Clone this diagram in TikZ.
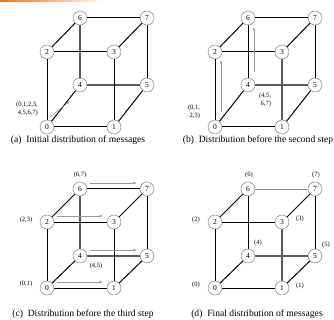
\documentclass[tikz,border=0pt]{standalone}
\usepackage{fontspec}
\setmainfont{Liberation Serif}
\usetikzlibrary{arrows.meta}
\definecolor{barorange}{RGB}{240,110,20}
\tikzset{
  nd/.style={circle, draw=black!55, line width=0.45pt, fill=white, minimum size=14pt, inner sep=0pt, font=\fontsize{7.5}{8}\selectfont},
  ed/.style={line width=1pt, draw=black},
  ge/.style={line width=1.5pt, draw=black!65},
  le/.style={line width=0.6pt, draw=black!45},
  mv/.style={-{Latex[length=3.5pt,width=2.4pt]}, draw=black!40, line width=0.55pt},
  lb/.style={font=\fontsize{6.5}{7.5}\selectfont, align=center, inner sep=0pt},
  capt/.style={font=\fontsize{9.6}{11}\selectfont, inner sep=0pt}
}
% #1 prefix, #2 x offset, #3 y of 0/1, #4 y of 4/5, #5 y of 2/3, #6 y of 6/7
\newcommand\cubenodes[6]{%
  \node[nd] (#1-0) at (47+#2,#3) {0};
  \node[nd] (#1-1) at (114+#2,#3) {1};
  \node[nd] (#1-4) at (80+#2,#4) {4};
  \node[nd] (#1-5) at (147+#2,#4) {5};
  \node[nd] (#1-2) at (47+#2,#5) {2};
  \node[nd] (#1-3) at (114+#2,#5) {3};
  \node[nd] (#1-6) at (80+#2,#6) {6};
  \node[nd] (#1-7) at (147+#2,#6) {7};
}
\begin{document}
\begin{tikzpicture}[x=1pt,y=-1pt]
\useasboundingbox (0,0) rectangle (334,320);
\shade[left color=barorange, right color=white] (0,0) rectangle (105,2);

% ---------------- (a)
\cubenodes{a}{0}{127}{85}{52}{18}
\draw[ge] (a-6) -- (a-4);
\draw[ge] (a-4) -- (a-5);
\draw[ed] (a-2) -- (a-3);
\draw[ed] (a-1) -- (a-3);
\draw[ed] (a-0) -- (a-1);
\draw[ed] (a-0) -- (a-2);
\draw[ed] (a-0) -- (a-4);
\draw[ed] (a-1) -- (a-5);
\draw[ed] (a-2) -- (a-6);
\draw[ed] (a-3) -- (a-7);
\draw[ed] (a-6) -- (a-7);
\draw[ed] (a-5) -- (a-7);
\coordinate (a-s) at (50,117);
\coordinate (a-e) at (70,101);
\draw[mv] (a-s) -- (a-e);
\node[lb, align=right, anchor=east] (a-l) at (38,109) {(0,1,2,3,\\[1pt]4,5,6,7)};
\node[capt] (a-c) at (78,140) {(a)\ \ Initial distribution of messages};

% ---------------- (b)
\cubenodes{b}{168}{127}{85}{52}{18}
\draw[ge] (b-1) -- (b-3);
\draw[ge] (b-4) -- (b-5);
\draw[ed] (b-6) -- (b-4);
\draw[ed] (b-2) -- (b-3);
\draw[ed] (b-0) -- (b-1);
\draw[ed] (b-0) -- (b-2);
\draw[ed] (b-0) -- (b-4);
\draw[ed] (b-1) -- (b-5);
\draw[ed] (b-2) -- (b-6);
\draw[ed] (b-3) -- (b-7);
\draw[ed] (b-6) -- (b-7);
\draw[ed] (b-5) -- (b-7);
\coordinate (b-s1) at (221,112);
\coordinate (b-e1) at (221,60);
\coordinate (b-s2) at (254,72);
\coordinate (b-e2) at (254,27);
\draw[mv] (b-s1) -- (b-e1);
\draw[mv] (b-s2) -- (b-e2);
\node[lb, align=right] (b-l1) at (194,112) {(0,1,\\[1pt]2,3)};
\node[lb, align=right] (b-l2) at (265,100) {(4,5,\\[1pt]6,7)};
\node[capt] (b-c) at (258,140) {(b)\ \ Distribution before the second step};

% ---------------- (c)
\cubenodes{c}{0}{288}{256}{222}{189}
\draw[ge] (c-6) -- (c-4);
\draw[ge] (c-4) -- (c-5);
\draw[ed] (c-2) -- (c-3);
\draw[ed] (c-1) -- (c-3);
\draw[ed] (c-0) -- (c-1);
\draw[ed] (c-0) -- (c-2);
\draw[ed] (c-0) -- (c-4);
\draw[ed] (c-1) -- (c-5);
\draw[ed] (c-2) -- (c-6);
\draw[ed] (c-3) -- (c-7);
\draw[ed] (c-6) -- (c-7);
\draw[ed] (c-5) -- (c-7);
\coordinate (c-s1) at (57,282);
\coordinate (c-e1) at (103,282);
\coordinate (c-s2) at (57,216);
\coordinate (c-e2) at (103,216);
\coordinate (c-s3) at (90,183);
\coordinate (c-e3) at (137,183);
\coordinate (c-s4) at (90,250);
\coordinate (c-e4) at (137,250);
\draw[mv] (c-s1) -- (c-e1);
\draw[mv] (c-s2) -- (c-e2);
\draw[mv] (c-s3) -- (c-e3);
\draw[mv] (c-s4) -- (c-e4);
\node[lb] (c-l1) at (80,175) {(6,7)};
\node[lb] (c-l2) at (26,220) {(2,3)};
\node[lb] (c-l3) at (96,266) {(4,5)};
\node[lb] (c-l4) at (26,284) {(0,1)};
\node[capt] (c-c) at (83,314) {(c)\ \ Distribution before the third step};

% ---------------- (d)
\cubenodes{d}{168}{288}{256}{222}{189}
\draw[ge] (d-1) -- (d-3);
\draw[ge] (d-4) -- (d-5);
\draw[ed] (d-6) -- (d-4);
\draw[ed] (d-2) -- (d-3);
\draw[ed] (d-0) -- (d-1);
\draw[ed] (d-0) -- (d-2);
\draw[ed] (d-0) -- (d-4);
\draw[ed] (d-1) -- (d-5);
\draw[ed] (d-2) -- (d-6);
\draw[ed] (d-3) -- (d-7);
\draw[le] (d-6) -- (d-7);
\draw[ed] (d-5) -- (d-7);
\node[lb] (d-l6) at (249,175) {(6)};
\node[lb] (d-l7) at (316,175) {(7)};
\node[lb] (d-l2) at (196,220) {(2)};
\node[lb] (d-l3) at (300,219) {(3)};
\node[lb] (d-l4) at (258,243) {(4)};
\node[lb] (d-l5) at (326,245) {(5)};
\node[lb] (d-l0) at (196,285) {(0)};
\node[lb] (d-l1) at (300,286) {(1)};
\node[capt] (d-c) at (257,314) {(d)\ \ Final distribution of messages};
\end{tikzpicture}
\end{document}
